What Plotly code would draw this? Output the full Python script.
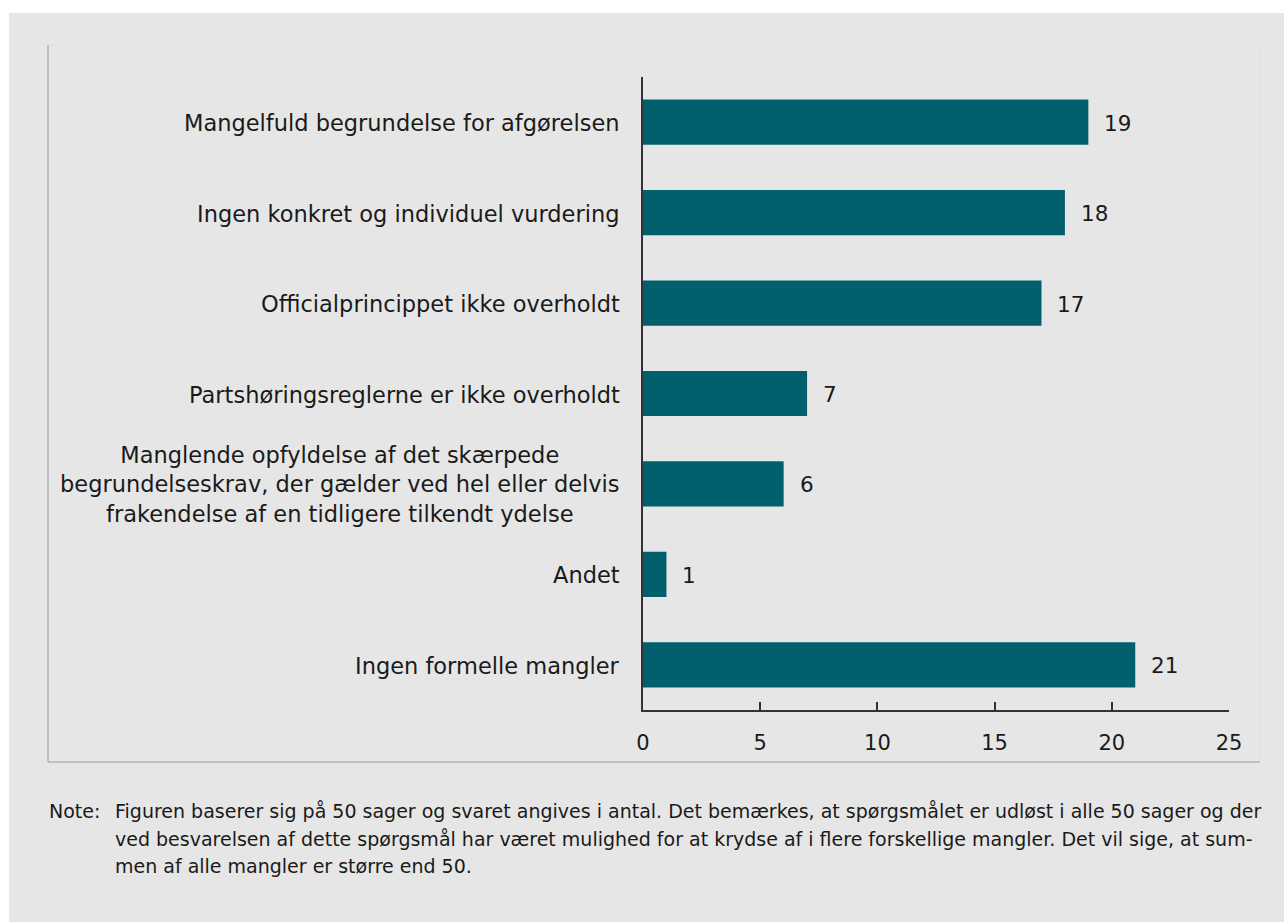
import plotly.graph_objects as go

categories = [
    "Mangelfuld begrundelse for afgørelsen",
    "Ingen konkret og individuel vurdering",
    "Officialprincippet ikke overholdt",
    "Partshøringsreglerne er ikke overholdt",
    "Manglende opfyldelse af det skærpede<br>begrundelseskrav, der gælder ved hel eller delvis<br>frakendelse af en tidligere tilkendt ydelse",
    "Andet",
    "Ingen formelle mangler",
]
values = [19, 18, 17, 7, 6, 1, 21]
x_ticks = [0, 5, 10, 15, 20, 25]
note_label = "Note:"
note_lines = [
    "Figuren baserer sig på 50 sager og svaret angives i antal. Det bemærkes, at spørgsmålet er udløst i alle 50 sager og der",
    "ved besvarelsen af dette spørgsmål har været mulighed for at krydse af i flere forskellige mangler. Det vil sige, at sum-",
    "men af alle mangler er større end 50.",
]

W, H = 1284, 922
L, R, T, B = 643, 55, 77, 212
pw, ph = W - L - R, H - T - B

def px(x):
    return (x - L) / pw

def py(y):
    return (H - B - y) / ph

BG = "#e6e6e6"
BAR = "#02606e"
TXT = "#1a1a1a"
FONT = "DejaVu Sans"

fig = go.Figure()
fig.add_trace(go.Bar(
    x=values, y=categories, orientation="h",
    marker=dict(color=BAR, line=dict(width=0)),
    width=0.5, showlegend=False, hoverinfo="skip",
))

annotations = []
for c, v in zip(categories, values):
    annotations.append(dict(
        x=px(622), xref="paper", y=c, yref="y", text=c, showarrow=False,
        xanchor="right", yanchor="middle", align="center", yshift=-1,
        font=dict(family=FONT, size=22.5, color=TXT),
    ))
    annotations.append(dict(
        x=v, xref="x", y=c, yref="y", text=str(v), showarrow=False,
        xanchor="left", yanchor="middle", xshift=14, yshift=-1,
        font=dict(family=FONT, size=21.5, color=TXT),
    ))

annotations.append(dict(
    x=px(47), xref="paper", y=py(811), yref="paper", text=note_label,
    showarrow=False, xanchor="left", yanchor="middle",
    font=dict(family=FONT, size=19, color=TXT),
))
for i, line in enumerate(note_lines):
    annotations.append(dict(
        x=px(113), xref="paper", y=py(811 + 27.5 * i), yref="paper", text=line,
        showarrow=False, xanchor="left", yanchor="middle",
        font=dict(family=FONT, size=19, color=TXT),
    ))

shapes = [
    dict(type="rect", xref="paper", yref="paper", x0=px(0), x1=px(W), y0=py(13), y1=py(0),
         fillcolor="white", line=dict(width=0), layer="above"),
    dict(type="rect", xref="paper", yref="paper", x0=px(0), x1=px(9), y0=py(H), y1=py(0),
         fillcolor="white", line=dict(width=0), layer="above"),
    dict(type="line", xref="paper", yref="paper", x0=px(48), x1=px(1260), y0=py(45), y1=py(45),
         line=dict(color="#e1e1e1", width=1), layer="below"),
    dict(type="line", xref="paper", yref="paper", x0=px(1260), x1=px(1260), y0=py(45), y1=py(762),
         line=dict(color="#e1e1e1", width=1), layer="below"),
    dict(type="line", xref="paper", yref="paper", x0=px(48), x1=px(48), y0=py(45), y1=py(762),
         line=dict(color="#b3b3b3", width=1.5), layer="below"),
    dict(type="line", xref="paper", yref="paper", x0=px(48), x1=px(1260), y0=py(762), y1=py(762),
         line=dict(color="#b3b3b3", width=1.5), layer="below"),
]

fig.update_layout(
    width=W, height=H,
    margin=dict(l=L, r=R, t=T, b=B, pad=0),
    paper_bgcolor=BG, plot_bgcolor=BG,
    bargap=0.5,
    annotations=annotations,
    shapes=shapes,
    xaxis=dict(
        range=[0, 25], tickvals=x_ticks, ticktext=[str(t) for t in x_ticks],
        showgrid=False, zeroline=False, showline=True, linecolor="#333333", linewidth=1.5,
        ticks="inside", ticklen=8, tickcolor="#333333", tickwidth=1.5,
        tickfont=dict(family=FONT, size=21, color=TXT), ticklabelstandoff=13,
        fixedrange=True,
    ),
    yaxis=dict(
        categoryorder="array", categoryarray=categories, range=[6.5, -0.5],
        showticklabels=False, showgrid=False, zeroline=False,
        showline=True, linecolor="#333333", linewidth=1.5, ticks="",
        fixedrange=True,
    ),
)

fig.write_html(
    "out.html",
    config={"displayModeBar": False},
    post_script="document.body.style.margin='0';document.body.style.overflow='hidden';",
)
